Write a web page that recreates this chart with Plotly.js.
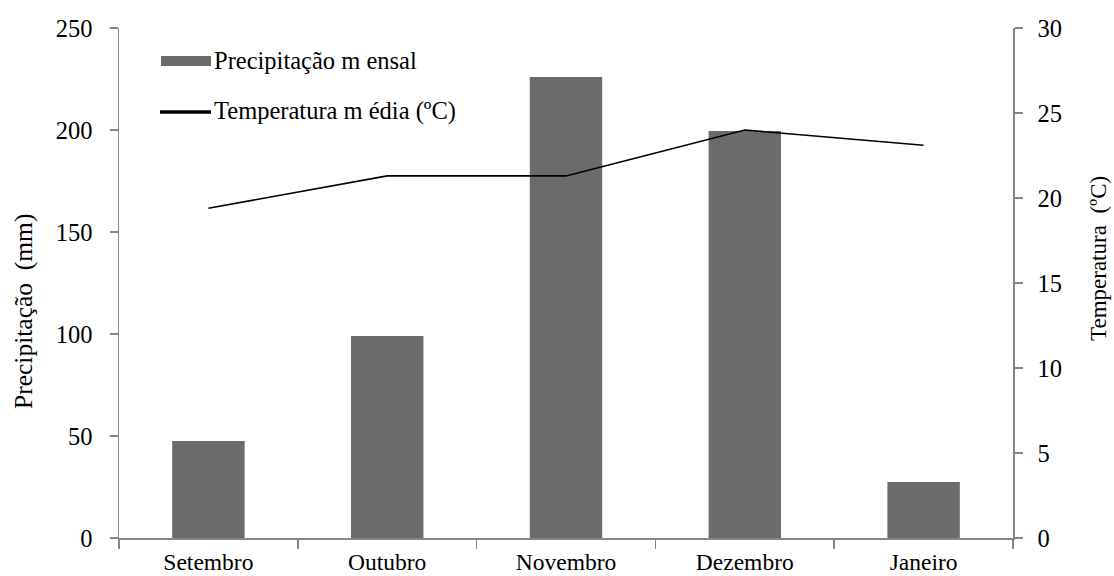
<!DOCTYPE html>
<html>
<head>
<meta charset="utf-8">
<script src="https://cdn.plot.ly/plotly-3.0.1.min.js"></script>
<style>
  html, body { margin: 0; padding: 0; background: #ffffff; }
  #chart { width: 1114px; height: 576px; }
</style>
</head>
<body>
<div id="chart"></div>
<script>
// Monthly rainfall (mm) and mean air temperature (ºC), September to January
const months = ["Setembro", "Outubro", "Novembro", "Dezembro", "Janeiro"];
const precipitacao = [47.5, 99, 226, 199.5, 27.5];
const temperatura = [19.4, 21.3, 21.3, 24.0, 23.1];

const precipTicks = [0, 50, 100, 150, 200, 250];
const tempTicks = [0, 5, 10, 15, 20, 25, 30];

const legendLabels = ["Precipitação m ensal", "Temperatura m édia (ºC)"];
const leftTitle = "Precipitação  (mm)";
const rightTitle = "Temperatura  (ºC)";

const barColor = "#6b6b6b";
const axisColor = "#868686";
const fontFamily = "'Liberation Serif', 'Times New Roman', serif";

const traces = [
  {
    type: "bar",
    name: legendLabels[0],
    x: months,
    y: precipitacao,
    marker: { color: barColor, line: { width: 0 } },
    yaxis: "y",
    hoverinfo: "x+y"
  },
  {
    type: "scatter",
    mode: "lines",
    name: legendLabels[1],
    x: months,
    y: temperatura,
    line: { color: "#000000", width: 1.6 },
    yaxis: "y2",
    hoverinfo: "x+y"
  }
];

const tickFont = { family: fontFamily, size: 24.5, color: "#000000" };
const monthFont = { family: fontFamily, size: 23.5, color: "#000000" };

// Plot area spans x 119..1013 and y 28..538 in page pixels
const W = 1114, H = 576;
const mL = 119, mR = 101, mT = 28, mB = 38;
const pw = W - mL - mR, ph = H - mT - mB;
const px = v => (v - mL) / pw;          // page x -> paper x
const py = v => (H - mB - v) / ph;      // page y -> paper y

const layout = {
  width: W,
  height: H,
  margin: { l: mL, r: mR, t: mT, b: mB, pad: 0 },
  paper_bgcolor: "#ffffff",
  plot_bgcolor: "#ffffff",
  showlegend: false,
  bargap: 0.595,
  font: { family: fontFamily, color: "#000000" },
  xaxis: {
    type: "category",
    range: [-0.5, 4.5],
    showline: true,
    linecolor: axisColor,
    linewidth: 1.5,
    ticks: "outside",
    tickson: "boundaries",
    ticklen: 9,
    tickwidth: 1.5,
    tickcolor: axisColor,
    showgrid: false,
    zeroline: false,
    tickfont: monthFont,
    ticklabelstandoff: 2,
    fixedrange: true
  },
  yaxis: {
    range: [0, 250],
    tickvals: precipTicks,
    ticktext: precipTicks.map(String),
    showline: true,
    linecolor: axisColor,
    linewidth: 1.5,
    ticks: "outside",
    ticklen: 8,
    tickwidth: 1.5,
    tickcolor: axisColor,
    showgrid: false,
    zeroline: false,
    tickfont: tickFont,
    ticklabelstandoff: 12,
    fixedrange: true
  },
  yaxis2: {
    range: [0, 30],
    tickvals: tempTicks,
    ticktext: tempTicks.map(String),
    overlaying: "y",
    side: "right",
    showline: true,
    linecolor: axisColor,
    linewidth: 1.5,
    ticks: "outside",
    ticklen: 8,
    tickwidth: 1.5,
    tickcolor: axisColor,
    showgrid: false,
    zeroline: false,
    tickfont: tickFont,
    ticklabelstandoff: 10,
    fixedrange: true
  },
  shapes: [
    // legend key: bar
    {
      type: "rect", xref: "paper", yref: "paper",
      x0: px(161), x1: px(211), y0: py(66), y1: py(56),
      fillcolor: barColor, line: { width: 0 }
    },
    // legend key: line
    {
      type: "line", xref: "paper", yref: "paper",
      x0: px(160), x1: px(211), y0: py(112), y1: py(112),
      line: { color: "#000000", width: 3.5 }
    }
  ],
  annotations: [
    {
      xref: "paper", yref: "paper", x: px(212), y: py(60),
      xanchor: "left", yanchor: "middle", showarrow: false,
      text: legendLabels[0], font: { family: fontFamily, size: 24.5, color: "#000000" }
    },
    {
      xref: "paper", yref: "paper", x: px(212), y: py(111),
      xanchor: "left", yanchor: "middle", showarrow: false,
      text: legendLabels[1], font: { family: fontFamily, size: 24.5, color: "#000000" }
    },
    {
      xref: "paper", yref: "paper", x: px(23), y: py(312),
      xanchor: "center", yanchor: "middle", showarrow: false, textangle: -90,
      text: leftTitle, font: { family: fontFamily, size: 25.5, color: "#000000" }
    },
    {
      xref: "paper", yref: "paper", x: px(1098), y: py(259),
      xanchor: "center", yanchor: "middle", showarrow: false, textangle: -90,
      text: rightTitle, font: { family: fontFamily, size: 23, color: "#000000" }
    }
  ]
};

Plotly.newPlot("chart", traces, layout, { displayModeBar: false, staticPlot: true });
</script>
</body>
</html>
